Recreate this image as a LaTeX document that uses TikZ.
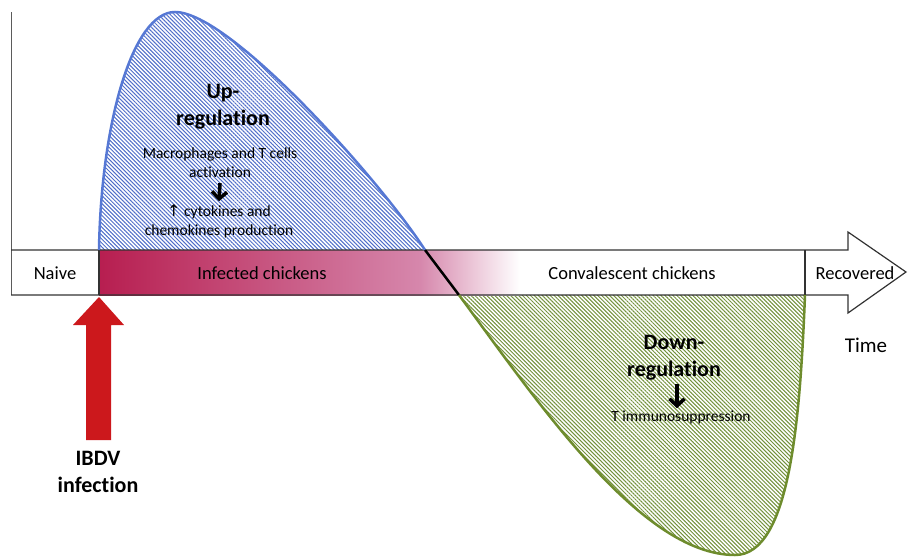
\documentclass[tikz,border=0pt]{standalone}
\usepackage{fontspec}
\setmainfont{Carlito}[Ligatures={NoCommon}]
\newfontfamily\symfont{DejaVu Sans}
\usetikzlibrary{patterns.meta,arrows.meta}
\definecolor{crim}{RGB}{183,30,80}
\definecolor{midpink}{RGB}{214,135,172}
\definecolor{bluec}{RGB}{86,120,212}
\definecolor{blueh}{RGB}{80,110,200}
\definecolor{greenc}{RGB}{110,140,45}
\definecolor{greenh}{RGB}{115,145,60}
\definecolor{redarrow}{RGB}{204,24,28}
\definecolor{barline}{RGB}{50,50,50}
\begin{document}
\begin{tikzpicture}[x=1pt,y=-1pt,
  lbl/.style={font=\fontsize{18.5}{22}\selectfont, inner sep=0pt},
  headlbl/.style={font=\bfseries\fontsize{22}{27}\selectfont, inner sep=0pt, align=center},
  smalllbl/.style={font=\fontsize{15.5}{19}\selectfont, inner sep=0pt, align=center},
  blkarrow/.style={line width=3.5pt, -{Straight Barb[length=7pt,width=15pt,line width=3.5pt]}},
  hatchblue/.style={pattern={Lines[angle=-45,distance=2.8pt,line width=1pt]}, pattern color=blueh},
  hatchgreen/.style={pattern={Lines[angle=-45,distance=2.8pt,line width=1pt]}, pattern color=greenh}]
\useasboundingbox (0,0) rectangle (908,557);

\coordinate (s) at (99,250);
\coordinate (pk) at (175,12);
\coordinate (c1) at (425,250);
\coordinate (c2) at (459,295);
\coordinate (bt) at (735,555);
\coordinate (e) at (805,295);

% hatched areas
\path[hatchblue] (s) .. controls (101,125) and (132,12) .. (pk)
   .. controls (230,12) and (380,180) .. (c1) -- cycle;
\path[hatchgreen] (c2) .. controls (535,398) and (640,555) .. (bt)
   .. controls (790,555) and (800,420) .. (e) -- cycle;

% gradient of infected chickens
\shade[left color=crim, right color=midpink] (99,250) rectangle (420,295);
\shade[left color=midpink, right color=white] (420,250) rectangle (520,295);

% y axis
\draw[barline!80, line width=1pt] (11,12) -- (11,295);

% time arrow outline
\draw[barline, line width=1.2pt, line join=miter]
  (11,250) -- (848,250) -- (848,232) -- (906,272) -- (848,313) -- (848,295) -- (11,295);
\draw[barline, line width=1.2pt] (99,250) -- (99,295);
\draw[barline, line width=1.2pt] (805,250) -- (805,295);

% curves
\draw[bluec, line width=2.5pt] (s) .. controls (101,125) and (132,12) .. (pk)
   .. controls (230,12) and (380,180) .. (c1);
\draw[black, line width=2.5pt] (c1) -- (c2);
\draw[greenc, line width=2.5pt] (c2) .. controls (535,398) and (640,555) .. (bt)
   .. controls (790,555) and (800,420) .. (e);

% bar labels
\node[lbl] (naive) at (55,273) {Naive};
\node[lbl] (infected) at (262,273) {Infected chickens};
\node[lbl] (conval) at (632,273) {Convalescent chickens};
\node[lbl] (recov) at (855,273) {Recovered};
\node[font=\fontsize{21}{25}\selectfont, inner sep=0pt] (time) at (866,345) {Time};

% up-regulation
\node[headlbl] (upreg) at (223,107) {Up-\\regulation};
\node[smalllbl] (mac) at (220,163) {Macrophages and T cells\\activation};
\node[smalllbl] (cyt) at (219,221) {{\symfont\fontsize{16}{19}\selectfont ↑} cytokines and\\chemokines production};
\draw[blkarrow] ([yshift=-5pt]mac.south) -- ([yshift=3pt]cyt.north);

% down-regulation
\node[headlbl] (downreg) at (674,358) {Down-\\regulation};
\node[smalllbl] (tsup) at (681,417) {T immunosuppression};
\draw[blkarrow] ([xshift=3pt,yshift=-3pt]downreg.south) -- ([xshift=-4pt,yshift=2pt]tsup.north);

% IBDV infection arrow
\coordinate (tip) at (99,297);
\fill[redarrow] (tip) -- (124,325) -- (111,325) -- (111,440) -- (86,440) -- (86,325) -- (73,325) -- cycle;
\node[headlbl] (ibdv) at (98,472) {IBDV\\infection};
\end{tikzpicture}
\end{document}
